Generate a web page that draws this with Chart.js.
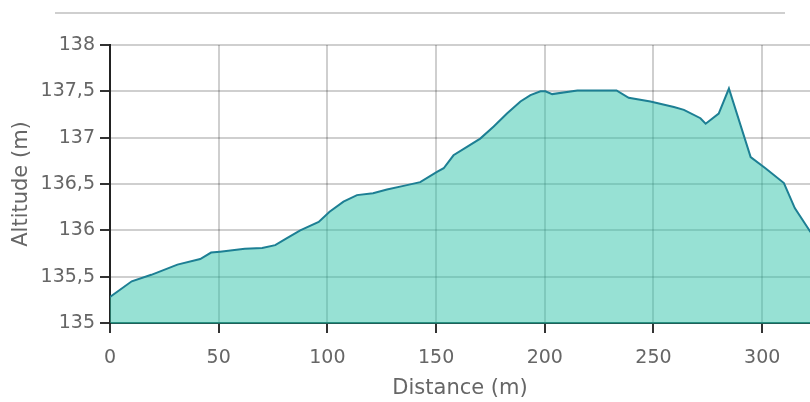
<!DOCTYPE html>
<html>
<head>
<meta charset="utf-8">
<script src="https://cdn.jsdelivr.net/npm/chart.js@4.4.1/dist/chart.umd.min.js"></script>
<style>
    html, body { margin: 0; padding: 0; background: #fff; overflow: hidden; }
    #wrap { position: relative; width: 810px; height: 402px; }
    #topRule { position: absolute; left: 55px; top: 12px; width: 730px; height: 0; border-top: 2px solid #cfcfcf; }
    #chartBox { position: absolute; left: 0; top: 0; width: 810px; height: 402px; }
</style>
</head>
<body>
<div id="wrap">
    <div id="chartBox"><canvas id="profileChart"></canvas></div>
    <div id="topRule"></div>
</div>
<script>
// Elevation profile data (distance in m, altitude in m)
const distances = [0, 10, 19, 31, 41.5, 46.5, 50.6, 62, 70, 76, 81, 87.5, 96, 101, 107.4, 113.6, 121, 127.4, 135, 142.7, 150.4, 153.5, 158, 164.2, 170.3, 176.5, 182.6, 188.8, 193.4, 198, 200.3, 203.4, 215, 218, 233, 238.6, 248.6, 259.4, 264, 271.6, 274, 280, 284.7, 294.7, 301.5, 310, 315, 322.3, 326];
const altitudes = [135.28, 135.45, 135.52, 135.63, 135.69, 135.76, 135.77, 135.80, 135.81, 135.84, 135.91, 136.0, 136.09, 136.2, 136.31, 136.38, 136.40, 136.44, 136.48, 136.52, 136.63, 136.67, 136.81, 136.90, 136.99, 137.12, 137.26, 137.39, 137.46, 137.50, 137.50, 137.47, 137.51, 137.51, 137.51, 137.43, 137.39, 137.33, 137.30, 137.21, 137.15, 137.26, 137.53, 136.79, 136.67, 136.51, 136.24, 135.98, 135.85];
const xTicksStep = 50;
const yTicksStep = 0.5;

document.addEventListener('DOMContentLoaded', () => {
    initProfileChart();
});

function initProfileChart() {
    const ctx = document.getElementById('profileChart').getContext('2d');
    const points = distances.map((d, i) => ({ x: d, y: altitudes[i] }));
    const tickFont = { family: 'DejaVu Sans', size: 19 };
    const titleFont = { family: 'DejaVu Sans', size: 21 };
    const gridStyle = { color: 'rgba(0, 0, 0, 0.19)', lineWidth: 2, tickColor: '#333', tickLength: 10 };

    new Chart(ctx, {
        type: 'line',
        data: {
            datasets: [{
                data: points,
                borderColor: '#1d7f94',
                borderWidth: 2,
                backgroundColor: 'rgba(47, 196, 170, 0.5)',
                fill: 'origin',
                pointRadius: 0,
                tension: 0
            }]
        },
        options: {
            responsive: true,
            maintainAspectRatio: false,
            animation: false,
            layout: { padding: { left: 0, right: 0, top: 45, bottom: 0 } },
            plugins: { legend: { display: false }, tooltip: { enabled: false } },
            scales: {
                x: {
                    type: 'linear',
                    z: 1,
                    min: 0,
                    max: 322,
                    afterFit: scale => { scale.height = 79; },
                    ticks: { stepSize: xTicksStep, includeBounds: false, color: '#666', font: tickFont, padding: 14, maxRotation: 0 },
                    grid: gridStyle,
                    border: { color: '#1f5f58', width: 2 },
                    title: { display: true, text: 'Distance (m)', color: '#666', font: titleFont, padding: { top: 0, bottom: 1 } }
                },
                y: {
                    z: 1,
                    min: 135,
                    max: 138,
                    afterFit: scale => { scale.width = 110; },
                    ticks: {
                        stepSize: yTicksStep,
                        color: '#666',
                        font: tickFont,
                        padding: 5,
                        callback: v => String(v).replace('.', ',')
                    },
                    grid: gridStyle,
                    border: { color: '#222', width: 2 },
                    title: { display: true, text: 'Altitude (m)', color: '#666', font: titleFont, padding: { top: 9, bottom: 0 } }
                }
            }
        }
    });
}
</script>
</body>
</html>
